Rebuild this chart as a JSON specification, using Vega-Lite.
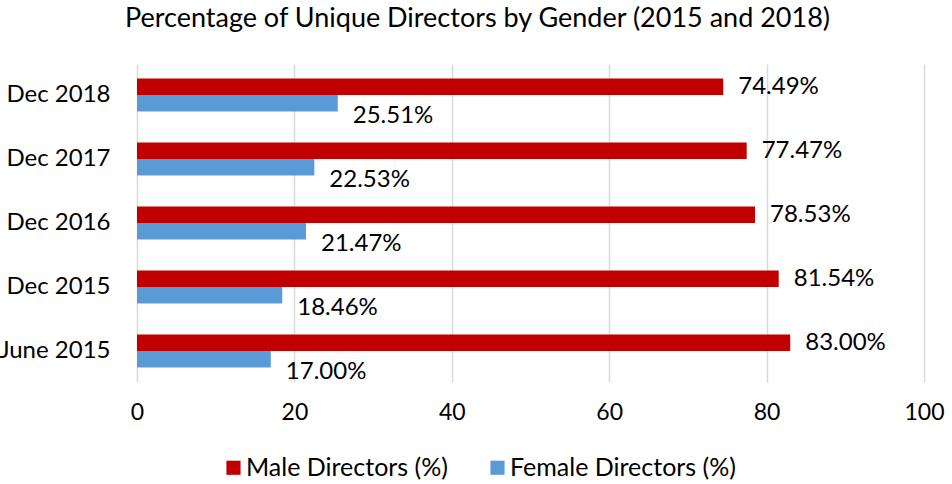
{
  "$schema": "https://vega.github.io/schema/vega-lite/v6.json",
  "autosize": {"type": "none"},
  "width": 787,
  "height": 318,
  "padding": {"left": 137, "top": 64, "right": 28, "bottom": 102},
  "background": "white",
  "config": {"view": {"stroke": null}, "font": "Lato"},
  "title": {"text": "Percentage of Unique Directors by Gender (2015 and 2018)", "fontSize": 27, "fontWeight": "normal", "font": "Lato", "color": "#000000", "anchor": "middle", "dx": -53, "offset": 31},
  "data": {"values": [
    {"period": "Dec 2018", "gender": "Male Directors (%)", "value": 74.49},
    {"period": "Dec 2018", "gender": "Female Directors (%)", "value": 25.51},
    {"period": "Dec 2017", "gender": "Male Directors (%)", "value": 77.47},
    {"period": "Dec 2017", "gender": "Female Directors (%)", "value": 22.53},
    {"period": "Dec 2016", "gender": "Male Directors (%)", "value": 78.53},
    {"period": "Dec 2016", "gender": "Female Directors (%)", "value": 21.47},
    {"period": "Dec 2015", "gender": "Male Directors (%)", "value": 81.54},
    {"period": "Dec 2015", "gender": "Female Directors (%)", "value": 18.46},
    {"period": "June 2015", "gender": "Male Directors (%)", "value": 83.0},
    {"period": "June 2015", "gender": "Female Directors (%)", "value": 17.0}
  ]},
  "transform": [{"calculate": "format(datum.value, '.2f') + '%'", "as": "label"}],
  "encoding": {
    "y": {"field": "period", "type": "nominal", "sort": ["Dec 2018", "Dec 2017", "Dec 2016", "Dec 2015", "June 2015"],
      "scale": {"paddingInner": 0.484, "paddingOuter": 0.227},
      "axis": {"title": null, "domain": false, "ticks": false, "labelFontSize": 24, "labelColor": "#000000", "labelPadding": 27, "labelFont": "Lato", "labelLimit": 300}},
    "yOffset": {"field": "gender", "type": "nominal", "sort": ["Male Directors (%)", "Female Directors (%)"]},
    "x": {"field": "value", "type": "quantitative", "scale": {"domain": [0, 100]},
      "axis": {"title": null, "domain": false, "ticks": false, "values": [0, 20, 40, 60, 80, 100], "grid": true, "gridColor": "#D9D9D9", "gridWidth": 1.5, "labelFontSize": 23, "labelColor": "#000000", "labelPadding": 19, "labelFont": "Lato", "labelFlush": false}}
  },
  "layer": [
    {"mark": {"type": "bar"},
      "encoding": {"color": {"field": "gender", "type": "nominal", "sort": ["Male Directors (%)", "Female Directors (%)"],
        "scale": {"domain": ["Male Directors (%)", "Female Directors (%)"], "range": ["#C00000", "#5B9BD5"]},
        "legend": {"title": null, "orient": "none", "legendX": 84, "legendY": 391, "direction": "horizontal", "symbolType": "square", "symbolSize": 200, "symbolStrokeWidth": 0, "labelFontSize": 25, "labelFont": "Lato", "labelColor": "#000000", "labelLimit": 400, "columnPadding": 37, "labelOffset": 0}}}},
    {"transform": [{"filter": "datum.gender === 'Male Directors (%)'"}],
      "mark": {"type": "text", "align": "left", "baseline": "middle", "dx": 15, "fontSize": 24, "font": "Lato", "color": "#000000"},
      "encoding": {"text": {"field": "label", "type": "nominal"}}},
    {"transform": [{"filter": "datum.gender === 'Female Directors (%)'"}],
      "mark": {"type": "text", "align": "left", "baseline": "middle", "dx": 15, "dy": 13, "fontSize": 24, "font": "Lato", "color": "#000000"},
      "encoding": {"text": {"field": "label", "type": "nominal"}}}
  ]
}
